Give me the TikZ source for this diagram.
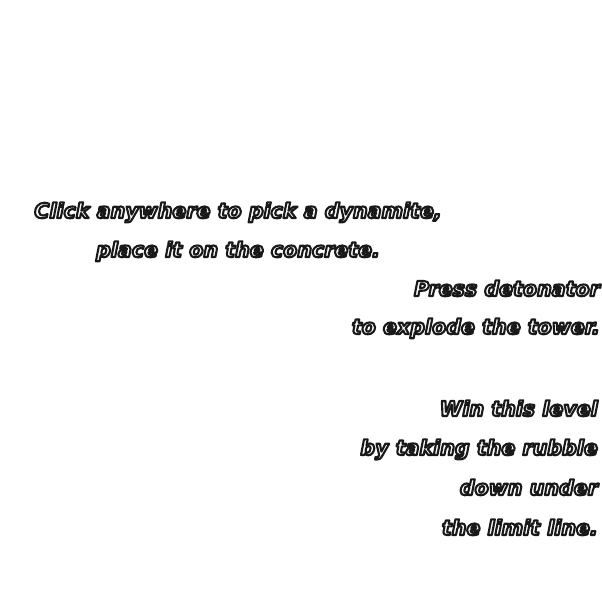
\documentclass[tikz,border=0pt]{standalone}
\usepackage{fontspec}
\setmainfont{DejaVu Sans}
\usepackage{tikz}
% white letters with a dark rim (fill and stroke text mode)
\newcommand{\rimtext}[1]{%
  \special{pdf:literal direct 1 g 0.1 G 2.1 w 1 j 2 Tr}#1%
  \special{pdf:literal direct 0 Tr 0 g 0 G}}

\begin{document}
\begin{tikzpicture}[x=1pt, y=-1pt,
    hint/.style={inner sep=0pt, font=\fontsize{20.6}{25}\selectfont\bfseries\itshape}]
  \useasboundingbox (0,0) rectangle (602,593);
  \node (click)   [hint, anchor=base] at (238,218) {\rimtext{Click anywhere to pick a dynamite,}};
  \node (place)   [hint, anchor=base] at (238,257) {\rimtext{place it on the concrete.}};
  \node (press)   [hint, anchor=base east] at (600,296) {\rimtext{Press detonator}};
  \node (explode) [hint, anchor=base east] at (600,334) {\rimtext{to explode the tower.}};
  \node (win)     [hint, anchor=base east] at (598,416) {\rimtext{Win this level}};
  \node (taking)  [hint, anchor=base east] at (598,455) {\rimtext{by taking the rubble}};
  \node (down)    [hint, anchor=base east] at (598,495) {\rimtext{down under}};
  \node (limit)   [hint, anchor=base east] at (598,535) {\rimtext{the limit line.}};
\end{tikzpicture}
\end{document}
